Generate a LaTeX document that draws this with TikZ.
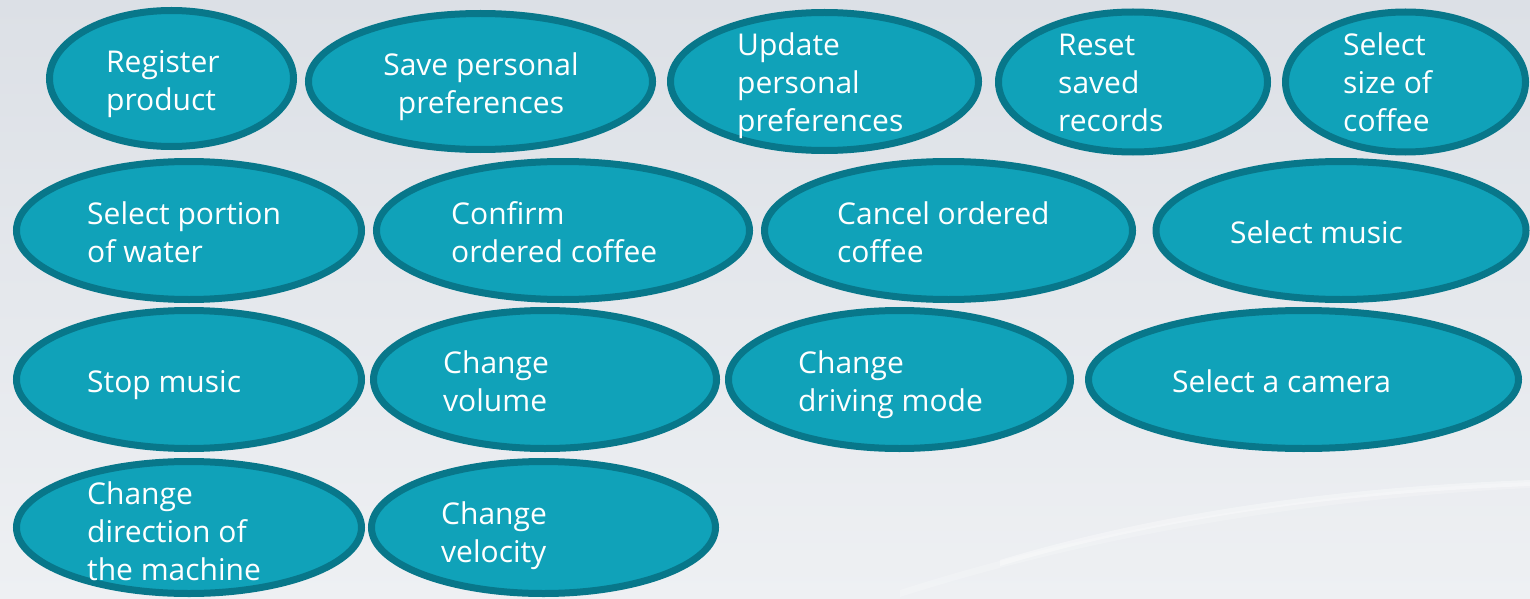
\documentclass[tikz,border=0pt]{standalone}
\usepackage{fontspec}
\setmainfont{Open Sans}
\usetikzlibrary{shapes.geometric}
\definecolor{bgtop}{HTML}{DCE0E6}
\definecolor{bgbot}{HTML}{EEF0F3}
\definecolor{ufill}{HTML}{10A2B9}
\definecolor{uline}{HTML}{08778A}
\newcommand{\Lt}[1]{\begin{tabular}[t]{@{}l@{}}#1\end{tabular}}
\newcommand{\Ct}[1]{\begin{tabular}[t]{@{}c@{}}#1\end{tabular}}
\tikzset{
  usecase/.style={ellipse, draw=uline, fill=ufill, line width=7pt, inner sep=0pt},
  utext/.style={anchor=base west, inner sep=0pt, text=white, font=\fontsize{30}{38}\selectfont},
  ctext/.style={anchor=base, inner sep=0pt, text=white, font=\fontsize{30}{38}\selectfont}
}
\begin{document}
\begin{tikzpicture}[x=1pt,y=-1pt]
\useasboundingbox (0,0) rectangle (1530,599);
\shade[top color=bgtop, bottom color=bgbot] (0,0) rectangle (1530,599);
\fill[white, opacity=0.2] (900,590) .. controls (1150,510) and (1400,487) .. (1530,482) -- (1530,488) .. controls (1400,494) and (1150,517) .. (900,597) -- cycle;
\fill[white, opacity=0.35] (1000,560) .. controls (1200,500) and (1400,485) .. (1530,480) -- (1530,486) .. controls (1400,491) and (1200,506) .. (1000,566) -- cycle;
% row 1
\node[usecase, minimum width=244, minimum height=136] (e1) at (171.5,78.5) {};
\node[utext] (t1) at (106,73) {\Lt{Register\\product}};
\node[usecase, minimum width=344, minimum height=136] (e2) at (480.5,81.5) {};
\node[ctext] (t2) at (481,76) {\Ct{Save personal\\preferences}};
\node[usecase, minimum width=308, minimum height=138] (e3) at (824.5,81.5) {};
\node[utext] (t3) at (737,56) {\Lt{Update\\personal\\preferences}};
\node[usecase, minimum width=269, minimum height=140] (e4) at (1133,82) {};
\node[utext] (t4) at (1058,56) {\Lt{Reset\\saved\\records}};
\node[usecase, minimum width=240, minimum height=140] (e5) at (1405.5,82) {};
\node[utext] (t5) at (1343,56) {\Lt{Select\\size of\\coffee}};
% row 2
\node[usecase, minimum width=345, minimum height=138] (e6) at (189,230.5) {};
\node[utext] (t6) at (87,224) {\Lt{Select portion\\of water}};
\node[usecase, minimum width=373, minimum height=138] (e7) at (563,230.5) {};
\node[utext] (t7) at (451,224) {\Lt{Confirm\\ordered coffee}};
\node[usecase, minimum width=368, minimum height=138] (e8) at (948.5,230.5) {};
\node[utext] (t8) at (837,224) {\Lt{Cancel ordered\\coffee}};
\node[usecase, minimum width=370, minimum height=138] (e9) at (1341,230.5) {};
\node[ctext] (t9) at (1316.5,243) {Select music};
% row 3
\node[usecase, minimum width=345, minimum height=138] (e10) at (189,379.5) {};
\node[utext] (t10) at (87,392) {Stop music};
\node[usecase, minimum width=343, minimum height=138] (e11) at (545,379.5) {};
\node[utext] (t11) at (443,373) {\Lt{Change\\volume}};
\node[usecase, minimum width=342, minimum height=138] (e12) at (899.5,379.5) {};
\node[utext] (t12) at (798,373) {\Lt{Change\\driving mode}};
\node[usecase, minimum width=430, minimum height=138] (e13) at (1303.5,379.5) {};
\node[utext] (t13) at (1172,392) {Select a camera};
% row 4
\node[usecase, minimum width=345, minimum height=132] (e14) at (189,527.5) {};
\node[utext] (t14) at (87,504) {\Lt{Change\\direction of\\the machine}};
\node[usecase, minimum width=344, minimum height=132] (e15) at (543.5,527.5) {};
\node[utext] (t15) at (441,524) {\Lt{Change\\velocity}};
\end{tikzpicture}
\end{document}
